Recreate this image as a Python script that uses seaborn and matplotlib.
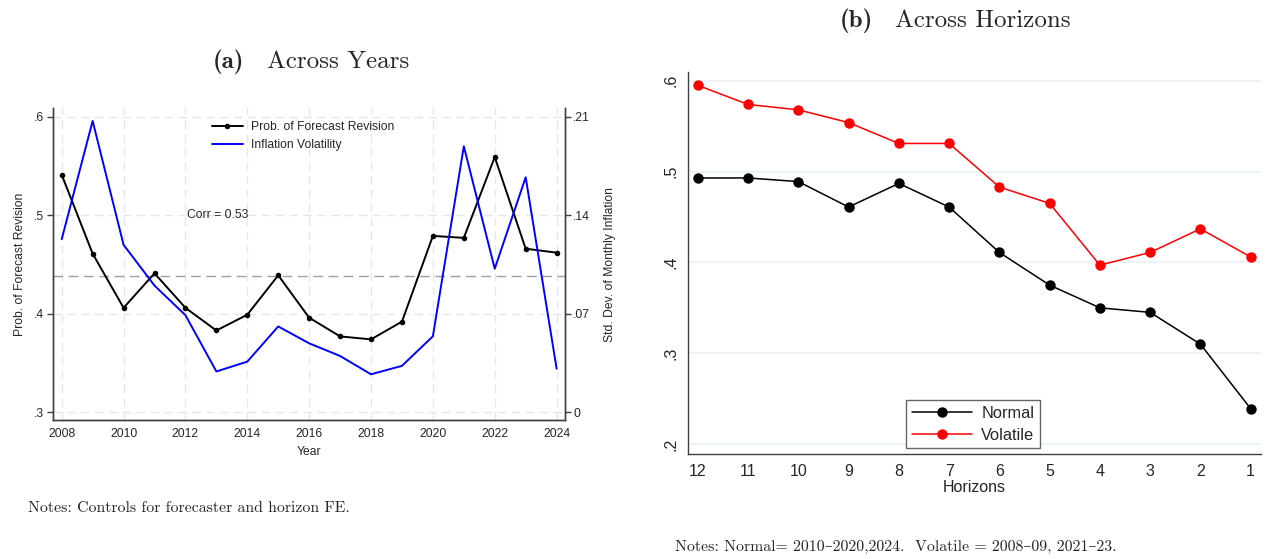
import matplotlib
matplotlib.use("Agg")
import numpy as np
import pandas as pd
import seaborn as sns
from matplotlib import pyplot as plt
from matplotlib.lines import Line2D

# ---- data: panel (a) ----
years = [2008, 2009, 2010, 2011, 2012, 2013, 2014, 2015, 2016,
         2017, 2018, 2019, 2020, 2021, 2022, 2023, 2024]
prob_revision = [0.541, 0.461, 0.406, 0.441, 0.406, 0.383, 0.399, 0.439, 0.396,
                 0.377, 0.374, 0.392, 0.479, 0.477, 0.559, 0.466, 0.462]
infl_volatility = [0.123, 0.207, 0.119, 0.090, 0.069, 0.029, 0.036, 0.061, 0.049,
                   0.040, 0.027, 0.033, 0.054, 0.189, 0.102, 0.167, 0.031]
mean_prob = 0.4386
corr_label = "Corr = 0.53"

# ---- data: panel (b) ----
horizons = [12, 11, 10, 9, 8, 7, 6, 5, 4, 3, 2, 1]
normal = [0.493, 0.493, 0.489, 0.461, 0.487, 0.461, 0.411, 0.375, 0.350, 0.345, 0.310, 0.239]
volatile = [0.595, 0.574, 0.568, 0.554, 0.531, 0.531, 0.483, 0.465, 0.397, 0.411, 0.437, 0.406]

left_yticks = [0.3, 0.4, 0.5, 0.6]
left_ylabels = [".3", ".4", ".5", ".6"]
right_yticks = [0, 0.07, 0.14, 0.21]
right_ylabels = ["0", ".07", ".14", ".21"]
b_yticks = [0.2, 0.3, 0.4, 0.5, 0.6]
b_ylabels = [".2", ".3", ".4", ".5", ".6"]

sns.set_style("white")
plt.rcParams['font.family'] = ['Liberation Sans', 'DejaVu Sans']
serif = ['cmr10', 'DejaVu Serif']
serif_bold = ['cmb10', 'DejaVu Serif']
spine_col = '#404040'

W, H = 1271, 559
fig = plt.figure(figsize=(W / 100, H / 100), dpi=100)


def fig_text(px, py, s, **kw):
    # place text by pixel position (from top-left)
    return fig.text(px / W, 1 - py / H, s, **kw)


# ================= panel (a) =================
ax = fig.add_axes([0.0415, 0.2487, 0.403, 0.5576])
ax2 = ax.twinx()

for x in range(2008, 2025, 2):
    ax.axvline(x, color='#e6e6e6', lw=1, ls=(0, (6, 4)), zorder=0)
for y in left_yticks:
    ax.axhline(y, color='#e6e6e6', lw=1, ls=(0, (6, 4)), zorder=0)
ax.axhline(mean_prob, color='#a0a0a0', lw=1, ls=(0, (7, 4)), zorder=1)

sns.lineplot(x=years, y=prob_revision, ax=ax, color='black', lw=1.4,
             marker='o', markersize=4, markeredgewidth=0, zorder=3)
sns.lineplot(x=years, y=infl_volatility, ax=ax2, color='#0000ff', lw=1.4, zorder=3)

ax.set_xlim(2007.71, 2024.27)
ax.set_ylim(0.2922, 0.6085)
ax2.set_ylim(-0.00546, 0.216)
ax.set_xticks(list(range(2008, 2025, 2)))
ax.set_xticklabels([str(x) for x in range(2008, 2025, 2)], fontsize=8.7)
ax.set_yticks(left_yticks)
ax.set_yticklabels(left_ylabels, fontsize=8.7)
ax2.set_yticks(right_yticks)
ax2.set_yticklabels(right_ylabels, fontsize=8.7)
ax.set_xlabel("Year", fontsize=8.7, labelpad=4)
ax.set_ylabel("Prob. of Forecast Revision", fontsize=8.7, labelpad=6)
ax2.set_ylabel("Std. Dev. of Monthly Inflation", fontsize=8.7, labelpad=10)

for a in (ax, ax2):
    a.spines['top'].set_visible(False)
    for s in ('left', 'right', 'bottom'):
        a.spines[s].set_color(spine_col)
        a.spines[s].set_linewidth(1)
    a.tick_params(axis='both', direction='out', length=4, width=1,
                  color=spine_col, pad=2)
ax.tick_params(axis='y', which='both', right=False)
ax2.tick_params(axis='y', left=False)

ax.text(2012.05, 0.5, corr_label, fontsize=8.7, va='center', ha='left')

handles = [Line2D([], [], color='black', lw=1.4, marker='o', markersize=4, markeredgewidth=0),
           Line2D([], [], color='#0000ff', lw=1.4)]
ax2.legend(handles, ["Prob. of Forecast Revision", "Inflation Volatility"],
           loc='upper left', bbox_to_anchor=(0.295, 0.985), frameon=False,
           fontsize=8.7, handlelength=2.5, handletextpad=0.7,
           labelspacing=0.45, borderpad=0.2)

fig_text(213, 68, "(a)", family=serif_bold, fontsize=18, ha='left', va='baseline')
fig_text(267, 68, "Across Years", family=serif, fontsize=18, ha='left', va='baseline')
fig_text(28, 508, "Notes: Controls for forecaster and horizon FE.",
         family=serif, fontsize=11.4, ha='left', va='center')

# ================= panel (b) =================
bx = fig.add_axes([0.5415, 0.1878, 0.4504, 0.6839])
for y in b_yticks:
    bx.axhline(y, color='#eaf2f3', lw=1.2, zorder=0)

df = pd.DataFrame({'Horizons': horizons * 2,
                   'value': normal + volatile,
                   'group': ['Normal'] * len(horizons) + ['Volatile'] * len(horizons)})
sns.lineplot(data=df, x='Horizons', y='value', hue='group',
             palette={'Normal': 'black', 'Volatile': '#ff0000'},
             marker='o', markersize=7.5, markeredgewidth=0, lw=1.1,
             ax=bx, legend=False, zorder=3)

bx.set_xlim(12.19, 0.8)
bx.set_ylim(0.189, 0.61)
bx.set_xticks(horizons)
bx.set_xticklabels([str(h) for h in horizons], fontsize=11.5)
bx.set_yticks(b_yticks)
bx.set_yticklabels(b_ylabels, fontsize=11.5, rotation=90, va='center')
bx.set_xlabel("Horizons", fontsize=11.5, labelpad=1)
bx.set_ylabel("")
for s in ('top', 'right'):
    bx.spines[s].set_visible(False)
for s in ('left', 'bottom'):
    bx.spines[s].set_color(spine_col)
    bx.spines[s].set_linewidth(1)
bx.tick_params(axis='both', direction='out', length=4, width=1,
               color=spine_col, pad=3)

bh = [Line2D([], [], color='black', lw=1.1, marker='o', markersize=7.5, markeredgewidth=0),
      Line2D([], [], color='#ff0000', lw=1.1, marker='o', markersize=7.5, markeredgewidth=0)]
bleg = bx.legend(bh, ["Normal", "Volatile"], loc='lower left',
                 bbox_to_anchor=(0.380, 0.0149), borderaxespad=0,
                 fontsize=11.8, frameon=True,
                 fancybox=False, edgecolor=spine_col, handlelength=3.66,
                 handletextpad=0.6, borderpad=0.35, labelspacing=0.4)
bleg.get_frame().set_linewidth(1)

fig_text(840, 26.7, "(b)", family=serif_bold, fontsize=18, ha='left', va='baseline')
fig_text(895, 26.7, "Across Horizons", family=serif, fontsize=18, ha='left', va='baseline')
fig_text(896, 547,
         "Notes: Normal= 2010\u20132020,2024.  Volatile = 2008\u201309, 2021\u201323.",
         family=serif, fontsize=11.4, ha='center', va='center')

fig.savefig("out.png", dpi=100)
